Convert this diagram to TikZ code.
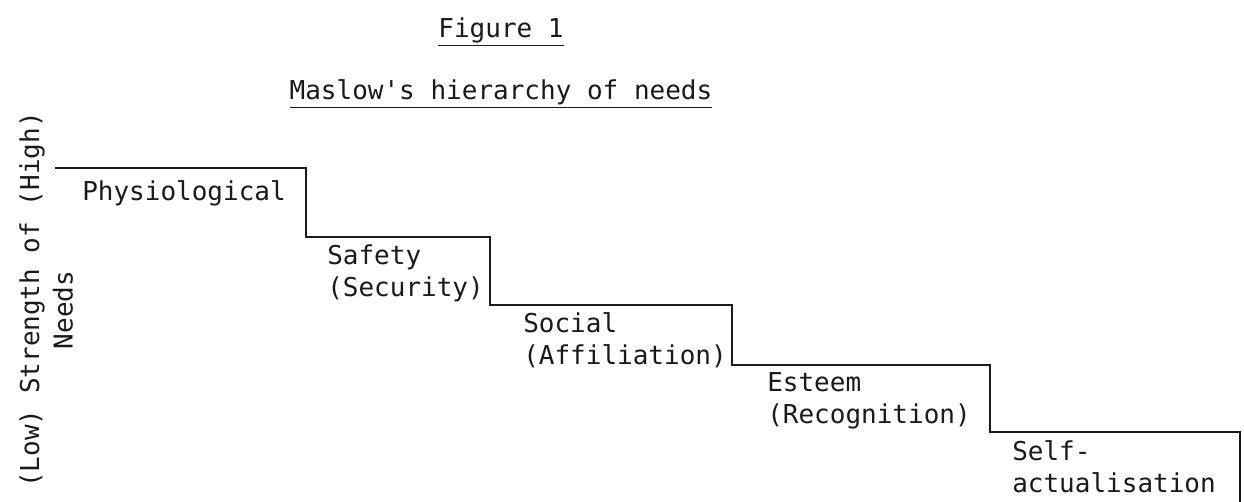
\documentclass[tikz,border=0pt]{standalone}
\usepackage{fontspec}
\setmonofont{DejaVu Sans Mono}
\usetikzlibrary{positioning}
\definecolor{inkgrey}{HTML}{1A1A1A}

\begin{document}
\begin{tikzpicture}[
  x=0.75pt, y=-0.75pt,
  need/.style={anchor=west, inner sep=0pt, align=left, text=inkgrey,
    font=\ttfamily\fontsize{19.5}{24}\selectfont},
  heading/.style={anchor=base, inner sep=0pt, text=inkgrey,
    font=\ttfamily\fontsize{19.5}{24}\selectfont},
  axis/.style={rotate=90, inner sep=0pt, text=inkgrey,
    font=\ttfamily\fontsize{19.5}{24}\selectfont},
  stair/.style={draw=inkgrey, line width=1.8pt, line join=miter}
]
  \useasboundingbox (0,0) rectangle (1244,502);

  % titles
  \node[heading] (figno) at (501,38) {\underline{Figure 1}};
  \node[heading] (title) at (501,100) {\underline{Maslow's hierarchy of needs}};

  % axis label
  \node[axis] (strength) at (32,300) {(Low) Strength of (High)};
  \node[axis] (needs) at (63,310) {Needs};

  % the steps
  \draw[stair] (55,168) -- (306,168) -- (306,237) -- (490,237) -- (490,305)
    -- (732,305) -- (732,365) -- (990,365) -- (990,432) -- (1240,432) -- (1240,502);

  \node[need] (physio) at (82,193) {Physiological};
  \node[need] (safety) at (327,273) {Safety\\(Security)};
  \node[need] (social) at (523,340) {Social\\(Affiliation)};
  \node[need] (esteem) at (767,401) {Esteem\\(Recognition)};
  \node[need] (selfact) at (1012,467) {Self-\\actualisation};
\end{tikzpicture}
\end{document}
